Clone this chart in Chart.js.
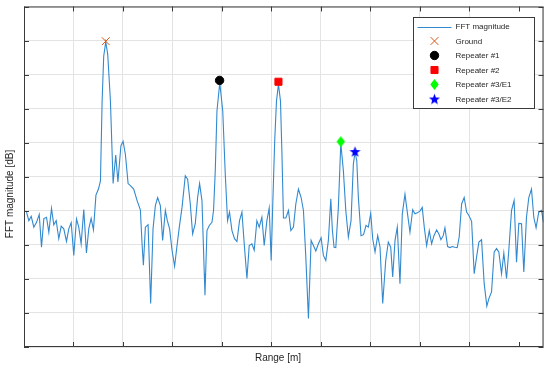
<!DOCTYPE html>
<html>
<head>
<meta charset="utf-8">
<script src="https://cdn.jsdelivr.net/npm/chart.js@4.4.1/dist/chart.umd.min.js"></script>
<style>
  body { margin: 0; background: #fff; }
  canvas { display: block; }
</style>
</head>
<body>
<canvas id="fftChart" width="550" height="370"></canvas>
<script>
// Range axis [m] and FFT magnitude [dB]
const rangeM = [
  0.051, 0.098, 0.146, 0.199, 0.253, 0.308, 0.354, 0.401, 0.455, 0.502,
  0.556, 0.602, 0.651, 0.703, 0.752, 0.804, 0.859, 0.905, 0.954, 1.006,
  1.061, 1.107, 1.155, 1.208, 1.262, 1.309, 1.357, 1.404, 1.454, 1.505,
  1.545, 1.579, 1.611, 1.652, 1.692, 1.747, 1.801, 1.854, 1.898, 1.959,
  2.003, 2.049, 2.104, 2.150, 2.217, 2.286, 2.352, 2.386, 2.413, 2.453,
  2.508, 2.560, 2.608, 2.655, 2.701, 2.756, 2.802, 2.857, 2.897, 2.943,
  2.992, 3.044, 3.093, 3.139, 3.194, 3.260, 3.307, 3.361, 3.408, 3.462,
  3.509, 3.549, 3.597, 3.644, 3.658, 3.698, 3.745, 3.799, 3.831, 3.866,
  3.900, 3.957, 4.017, 4.068, 4.114, 4.154, 4.203, 4.255, 4.304, 4.356,
  4.405, 4.451, 4.506, 4.552, 4.606, 4.653, 4.707, 4.754, 4.808, 4.855,
  4.909, 4.956, 4.996, 5.030, 5.067, 5.103, 5.143, 5.184, 5.212, 5.244,
  5.293, 5.345, 5.394, 5.446, 5.494, 5.547, 5.601, 5.648, 5.696, 5.749,
  5.803, 5.850, 5.898, 5.951, 6.005, 6.051, 6.100, 6.152, 6.201, 6.233,
  6.267, 6.302, 6.354, 6.403, 6.455, 6.504, 6.556, 6.610, 6.657, 6.691,
  6.726, 6.758, 6.812, 6.863, 6.913, 6.960, 7.008, 7.048, 7.095, 7.149,
  7.196, 7.250, 7.311, 7.363, 7.412, 7.452, 7.499, 7.545, 7.599, 7.646,
  7.700, 7.747, 7.801, 7.856, 7.902, 7.949, 8.003, 8.049, 8.090, 8.138,
  8.191, 8.239, 8.286, 8.340, 8.386, 8.427, 8.473, 8.508, 8.562, 8.609,
  8.655, 8.709, 8.756, 8.796, 8.845, 8.897, 8.946, 8.992, 9.047, 9.099,
  9.147, 9.194, 9.248, 9.301, 9.355, 9.396, 9.450, 9.503, 9.551, 9.597,
  9.652, 9.698, 9.753, 9.799, 9.854, 9.906, 9.955, 10.001, 10.056, 10.102,
  10.156, 10.203, 10.257, 10.304, 10.350, 10.404, 10.459, 10.500
];
const magnitudeDb = [
  -60.4, -62.9, -61.6, -64.8, -63.4, -61.1, -70.7, -62.3, -61.9, -66.3,
  -59.3, -64.1, -62.9, -68.2, -64.5, -65.3, -69.0, -65.3, -63.5, -73.1,
  -62.4, -64.8, -69.7, -59.6, -72.4, -65.3, -62.2, -65.6, -55.4, -53.6,
  -51.2, -27.8, -14.6, -10.4, -14.0, -27.8, -52.0, -43.6, -51.5, -40.9,
  -39.6, -43.4, -52.0, -52.6, -53.6, -57.0, -59.7, -69.7, -76.0, -64.8,
  -64.1, -87.2, -65.3, -58.5, -56.1, -58.5, -68.7, -59.9, -62.9, -65.3,
  -71.6, -76.3, -70.2, -64.8, -59.0, -49.7, -50.7, -58.0, -66.8, -63.8,
  -56.1, -52.0, -57.0, -78.5, -84.8, -65.8, -64.3, -63.4, -59.9, -48.2,
  -30.7, -22.4, -30.7, -49.2, -62.9, -60.4, -65.8, -68.2, -69.0, -62.9,
  -60.4, -69.7, -79.9, -70.2, -69.7, -71.6, -62.9, -64.8, -61.9, -70.2,
  -62.9, -59.2, -74.6, -57.0, -39.5, -27.8, -22.8, -27.8, -42.4, -62.1,
  -62.1, -59.9, -65.8, -64.8, -58.0, -53.6, -56.1, -59.9, -73.6, -91.6,
  -68.7, -70.2, -71.8, -69.7, -67.9, -73.1, -74.6, -68.7, -56.5, -65.8,
  -70.7, -70.8, -59.0, -40.1, -48.2, -59.9, -67.7, -62.9, -46.3, -42.8,
  -45.3, -56.1, -67.3, -67.0, -64.3, -64.8, -60.7, -68.2, -72.1, -67.3,
  -70.7, -87.2, -74.6, -69.2, -70.7, -79.4, -68.7, -64.8, -81.4, -60.9,
  -55.1, -60.4, -66.3, -59.7, -60.9, -60.6, -60.1, -59.0, -64.8, -70.2,
  -65.8, -69.7, -67.3, -65.6, -66.8, -68.5, -67.3, -65.0, -70.5, -70.8,
  -70.5, -70.7, -70.8, -67.7, -58.0, -56.1, -60.4, -61.4, -63.1, -78.5,
  -73.6, -69.2, -68.5, -81.4, -88.0, -85.8, -83.8, -72.1, -71.1, -72.1,
  -78.5, -72.4, -79.9, -71.6, -59.9, -57.0, -75.1, -63.7, -63.8, -78.0,
  -61.9, -56.1, -53.6, -61.9, -65.0, -60.4, -59.9, -63.4
];

// Detected targets
const targetNames = ['Ground', 'Repeater #1', 'Repeater #2', 'Repeater #3/E1', 'Repeater #3/E2'];
const targetRange = [1.652, 3.953, 5.143, 6.403, 6.691];
const targetDb = [-10.2, -21.7, -22.1, -39.7, -42.6];

// Axis limits (no tick labels in the original)
const xMin = 0, xMax = 10.5, xStep = 1;
const yMin = -100, yMax = 0, yStep = 10;

// Marker images for shapes Chart.js does not have
function makeMarker(draw, w, h) {
  const c = document.createElement('canvas');
  c.width = w; c.height = h;
  draw(c.getContext('2d'), w, h);
  return c;
}

const starImg = makeMarker((ctx, w, h) => {
  const cx = w / 2, cy = h / 2, ro = 5.8, ri = 2.4;
  ctx.beginPath();
  for (let i = 0; i < 10; i++) {
    const r = i % 2 === 0 ? ro : ri;
    const a = -Math.PI / 2 + i * Math.PI / 5;
    ctx.lineTo(cx + r * Math.cos(a), cy + 0.5 + r * Math.sin(a));
  }
  ctx.closePath();
  ctx.fillStyle = '#0000FF';
  ctx.fill();
}, 13, 13);

const diamondImg = makeMarker((ctx, w, h) => {
  const cx = w / 2, cy = h / 2;
  ctx.beginPath();
  ctx.moveTo(cx, cy - 5.5);
  ctx.lineTo(cx + 4.2, cy);
  ctx.lineTo(cx, cy + 5.5);
  ctx.lineTo(cx - 4.2, cy);
  ctx.closePath();
  ctx.fillStyle = '#00FF00';
  ctx.fill();
}, 11, 13);

const markerStyles = [
  { pointStyle: 'crossRot', radius: 5.5, borderWidth: 1, color: '#D95319' },
  { pointStyle: 'circle', radius: 4.2, borderWidth: 1, color: '#000000' },
  { pointStyle: 'rect', radius: 5, borderWidth: 1, color: '#FF0000' },
  { pointStyle: diamondImg, radius: 6, borderWidth: 0, color: '#00FF00' },
  { pointStyle: starImg, radius: 6, borderWidth: 0, color: '#0000FF' }
];

const lineColor = '#3289CF';

const datasets = targetNames.map((name, i) => ({
  label: name,
  data: [{ x: targetRange[i], y: targetDb[i] }],
  showLine: false,
  pointStyle: markerStyles[i].pointStyle,
  pointRadius: markerStyles[i].radius,
  pointBorderWidth: markerStyles[i].borderWidth,
  pointBackgroundColor: markerStyles[i].color,
  pointBorderColor: markerStyles[i].color,
  order: 0
}));

datasets.push({
  label: 'FFT magnitude',
  data: rangeM.map((x, i) => ({ x: x, y: magnitudeDb[i] })),
  showLine: true,
  borderColor: lineColor,
  borderWidth: 1.1,
  pointRadius: 0,
  tension: 0,
  order: 1
});

// Box, inward ticks, axis labels and legend, drawn MATLAB style
const matlabAxes = {
  id: 'matlabAxes',
  afterDraw(chart) {
    const ctx = chart.ctx;
    const a = chart.chartArea;
    const xs = chart.scales.x, ys = chart.scales.y;
    const tickLen = 5;
    ctx.save();
    ctx.strokeStyle = '#3A3A3A';
    ctx.lineWidth = 1;
    ctx.strokeRect(a.left + 0.5, a.top + 0.5, a.right - a.left - 1, a.bottom - a.top - 1);

    ctx.beginPath();
    for (let v = xMin; v <= xMax; v += xStep) {
      const px = Math.round(xs.getPixelForValue(v)) + 0.5;
      ctx.moveTo(px, a.bottom); ctx.lineTo(px, a.bottom - tickLen);
      ctx.moveTo(px, a.top); ctx.lineTo(px, a.top + tickLen);
    }
    for (let v = yMin; v <= yMax; v += yStep) {
      const py = Math.round(ys.getPixelForValue(v)) + 0.5;
      ctx.moveTo(a.left, py); ctx.lineTo(a.left + tickLen, py);
      ctx.moveTo(a.right, py); ctx.lineTo(a.right - tickLen, py);
    }
    ctx.stroke();

    // axis titles
    ctx.fillStyle = '#262626';
    ctx.font = '10px "Liberation Sans", Arial, sans-serif';
    ctx.textAlign = 'center';
    ctx.textBaseline = 'middle';
    ctx.fillText('Range [m]', 278, a.bottom + 11);
    ctx.save();
    ctx.translate(10, 194);
    ctx.rotate(-Math.PI / 2);
    ctx.fillText('FFT magnitude [dB]', 0, 0);
    ctx.restore();

    // legend box
    const bw = 121, bh = 91;
    const bx = Math.round(a.right - 10 - bw) + 0.5;
    const by = Math.round(a.top + 10) + 0.5;
    ctx.fillStyle = '#FFFFFF';
    ctx.fillRect(bx, by, bw, bh);
    ctx.strokeStyle = '#3A3A3A';
    ctx.strokeRect(bx, by, bw, bh);

    const rowY = [9, 23.5, 38, 52.5, 67, 81.5];
    const labels = ['FFT magnitude'].concat(targetNames);
    ctx.textAlign = 'left';
    ctx.font = '8px "Liberation Sans", Arial, sans-serif';
    labels.forEach((lab, i) => {
      const y = by + rowY[i];
      if (i === 0) {
        ctx.strokeStyle = lineColor;
        ctx.lineWidth = 1;
        ctx.beginPath();
        ctx.moveTo(bx + 4, Math.round(y) + 0.5);
        ctx.lineTo(bx + 38, Math.round(y) + 0.5);
        ctx.stroke();
      } else {
        const m = markerStyles[i - 1];
        ctx.fillStyle = m.color;
        ctx.strokeStyle = m.color;
        ctx.lineWidth = m.borderWidth || 1;
        Chart.helpers.drawPoint(ctx, {
          pointStyle: m.pointStyle, radius: m.radius, rotation: 0, borderWidth: m.borderWidth
        }, bx + 21, y);
      }
      ctx.fillStyle = '#262626';
      ctx.fillText(lab, bx + 42, y + 0.5);
    });
    ctx.restore();
  }
};

new Chart(document.getElementById('fftChart'), {
  type: 'scatter',
  data: { datasets: datasets },
  options: {
    responsive: false,
    animation: false,
    events: [],
    layout: { padding: { left: 24, top: 5, right: 6, bottom: 23 } },
    plugins: {
      legend: { display: false },
      tooltip: { enabled: false }
    },
    scales: {
      x: {
        type: 'linear',
        min: xMin, max: xMax,
        ticks: { display: false, stepSize: xStep },
        grid: { color: '#E3E3E3', drawTicks: false },
        border: { display: false }
      },
      y: {
        type: 'linear',
        min: yMin, max: yMax,
        ticks: { display: false, stepSize: yStep },
        grid: { color: '#E3E3E3', drawTicks: false },
        border: { display: false }
      }
    }
  },
  plugins: [matlabAxes]
});
</script>
</body>
</html>
